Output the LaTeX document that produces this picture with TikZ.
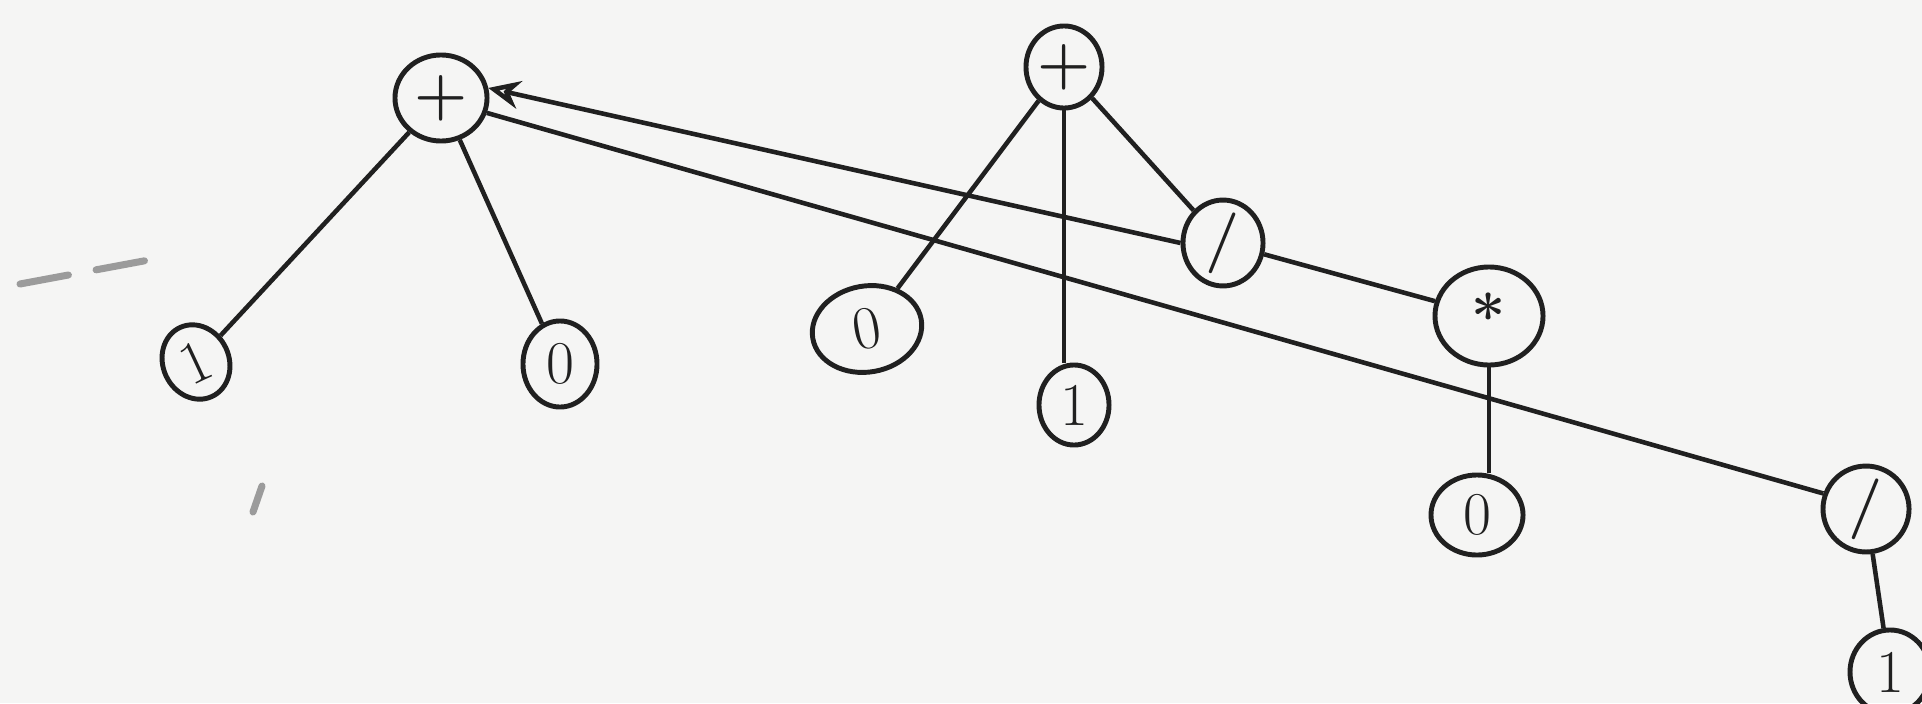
\documentclass[tikz,border=0pt]{standalone}
\usepackage{tikz}
\usetikzlibrary{arrows.meta,shapes.geometric}
\definecolor{paper}{HTML}{F5F5F4}
\definecolor{ink}{HTML}{202020}
\tikzset{>={Stealth[length=9pt,width=8pt,open]}}

\begin{document}
\begin{tikzpicture}[x=0.01cm,y=-0.01cm,
   op/.style={draw=ink,ellipse,line width=1.4pt,inner sep=0pt,font=\LARGE\bfseries,text=ink},
   lf/.style={draw=ink,ellipse,line width=1.4pt,inner sep=0pt,font=\LARGE,text=ink},
   edge/.style={draw=ink,line width=1.3pt},
   smudge/.style={draw=ink!45,line width=2pt,line cap=round}]
  \fill[paper] (0,0) rectangle (1922,703);
  \useasboundingbox (0,0) rectangle (1922,703);
  % operators
  \node[op,minimum width=0.92cm,minimum height=0.86cm] (plusa) at (441,98) {+};
  \node[op,minimum width=0.76cm,minimum height=0.82cm] (plusb) at (1064,67) {+};
  \node[op,minimum width=0.80cm,minimum height=0.74cm] (diva) at (1223,243) {/};
  \node[op,minimum width=1.08cm,minimum height=0.98cm] (mul) at (1489,316) {*};
  \node[op,minimum width=0.86cm,minimum height=0.80cm] (divb) at (1866,509) {/};
  % leaves
  \node[lf,minimum width=0.66cm,minimum height=0.76cm,rotate=25] (one1) at (196,362) {1};
  \node[lf,minimum width=0.74cm,minimum height=0.86cm] (zero1) at (560,364) {0};
  \node[lf,minimum width=1.10cm,minimum height=0.86cm,rotate=10] (zero2) at (867,329) {0};
  \node[lf,minimum width=0.70cm,minimum height=0.80cm] (one2) at (1074,405) {1};
  \node[lf,minimum width=0.92cm,minimum height=0.80cm] (zero3) at (1477,515) {0};
  \node[lf,minimum width=0.80cm,minimum height=0.84cm] (one3) at (1890,672) {1};
  % tree edges
  \draw[edge] (plusa) -- (one1);
  \draw[edge] (plusa) -- (zero1);
  \draw[edge] (plusb) -- (zero2);
  \draw[edge] (plusb.south) -- (plusb.south |- one2.north);
  \draw[edge] (plusb) -- (diva);
  \draw[edge] (diva) -- (mul);
  \draw[edge] (mul.south) -- (mul.south |- zero3.north);
  \draw[edge] (divb) -- (one3);
  % long links
  \draw[edge,->] (diva.west) -- (plusa.12);
  \draw[edge] (plusa.-18) -- (divb.160);
  % stray marks
  \draw[smudge,dashed,dash pattern=on 14pt off 8pt] (20,284) -- (165,257);
  \draw[smudge] (262,486) -- (253,512);
\end{tikzpicture}
\end{document}
